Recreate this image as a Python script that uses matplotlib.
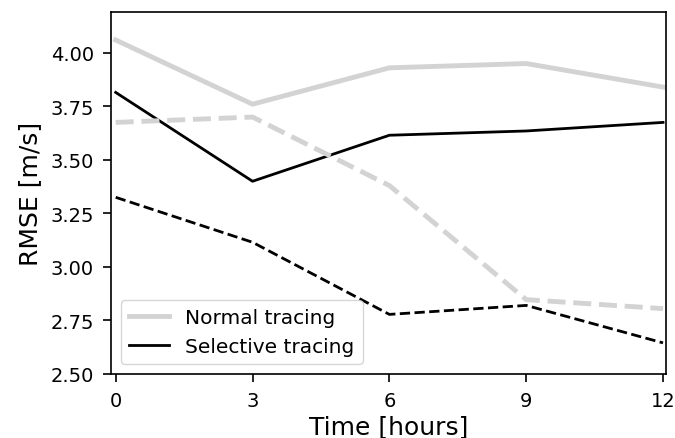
import matplotlib
matplotlib.use("Agg")
import matplotlib.pyplot as plt

# donnees
hours = [0, 3, 6, 9, 12]
normal_solid = [4.06, 3.76, 3.93, 3.95, 3.84]
normal_dash = [3.675, 3.70, 3.38, 2.847, 2.805]
selective_solid = [3.815, 3.40, 3.615, 3.635, 3.675]
selective_dash = [3.325, 3.115, 2.778, 2.82, 2.645]

fig = plt.figure(figsize=(6.75, 4.39), dpi=100)
ax = fig.add_axes([0.164, 0.146, 0.823, 0.824])

ax.plot(hours, normal_solid, color="lightgray", lw=3.5, label="Normal tracing")
ax.plot(hours, selective_solid, color="black", lw=2, label="Selective tracing")
ax.plot(hours, normal_dash, color="lightgray", lw=3.5, ls="--")
ax.plot(hours, selective_dash, color="black", lw=2, ls="--")

ax.set_xlim(-0.11, 12.07)
ax.set_ylim(2.5, 4.19)
ax.set_xticks(hours)
ax.set_yticks([2.5, 2.75, 3.0, 3.25, 3.5, 3.75, 4.0])
ax.yaxis.set_major_formatter(matplotlib.ticker.FormatStrFormatter("%.2f"))
ax.tick_params(labelsize=14, width=1.2, length=6, pad=6)
for s in ax.spines.values():
    s.set_linewidth(1.2)
ax.set_xlabel("Time [hours]", fontsize=18, labelpad=3)
ax.set_ylabel("RMSE [m/s]", fontsize=18, labelpad=6)
ax.legend(loc="lower left", fontsize=14.5)

fig.savefig("out.png", dpi=100)
